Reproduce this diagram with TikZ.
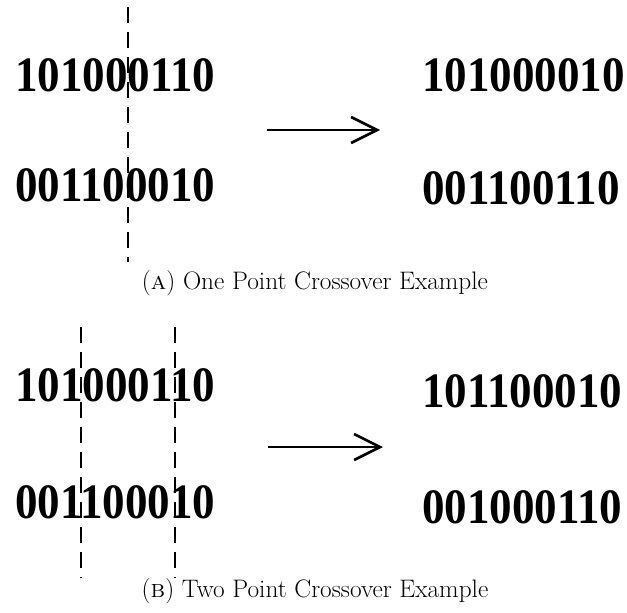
\documentclass[tikz,border=0pt]{standalone}
\usepackage{fontspec}
\newfontfamily\bitsfont{Liberation Serif}
\usetikzlibrary{arrows.meta}
\newcommand{\bitstr}[1]{\scalebox{1}[1.1]{#1}}
\begin{document}
\begin{tikzpicture}[x=1pt,y=-1pt,
  bits/.style={font=\bitsfont\fontsize{45}{45}\selectfont\bfseries, inner sep=0pt, anchor=west},
  cutline/.style={line width=2.8pt, dash pattern=on 16pt off 9pt},
  xarrow/.style={line width=2.2pt, -{Straight Barb[length=26pt,width=26pt,line width=2.6pt]}},
  caption/.style={font=\fontsize{25.3}{25.3}\selectfont, inner sep=0pt}]
\useasboundingbox (0,0) rectangle (627,613);
% (A)
\node[bits] (a1) at (15,75) {\bitstr{101000110}};
\node[bits] (a2) at (15,185) {\bitstr{001100010}};
\node[bits] (a3) at (422,75) {\bitstr{101000010}};
\node[bits] (a4) at (422,188) {\bitstr{001100110}};
\coordinate (acutT) at (128,7);
\coordinate (acutB) at (128,262);
\draw[cutline] (acutT) -- (acutB);
\coordinate (aarrS) at (267,130);
\coordinate (aarrE) at (380,130);
\draw[xarrow] (aarrS) -- (aarrE);
\node[caption] (capA) at (315,283) {(\textsc{a}) One Point Crossover Example};
% (B)
\node[bits] (b1) at (15,385) {\bitstr{101000110}};
\node[bits] (b2) at (15,502) {\bitstr{001100010}};
\node[bits] (b3) at (422,391) {\bitstr{101100010}};
\node[bits] (b4) at (422,507) {\bitstr{001000110}};
\coordinate (bcut1T) at (81,327);
\coordinate (bcut1B) at (81,578);
\coordinate (bcut2T) at (175,327);
\coordinate (bcut2B) at (175,578);
\draw[cutline] (bcut1T) -- (bcut1B);
\draw[cutline] (bcut2T) -- (bcut2B);
\coordinate (barrS) at (268,447);
\coordinate (barrE) at (383,447);
\draw[xarrow] (barrS) -- (barrE);
\node[caption] (capB) at (315,591) {(\textsc{b}) Two Point Crossover Example};
\end{tikzpicture}
\end{document}
